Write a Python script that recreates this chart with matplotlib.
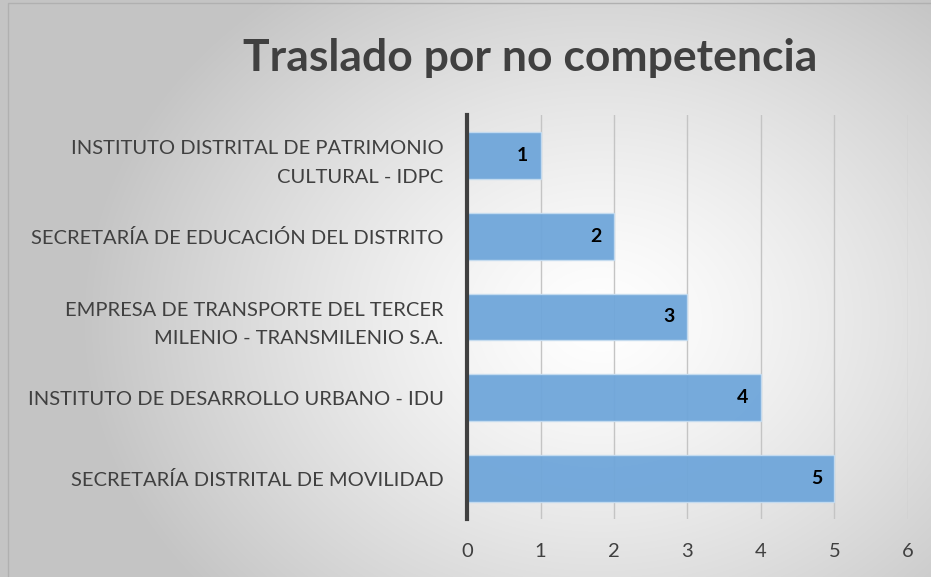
import numpy as np
import matplotlib
matplotlib.use("Agg")
import matplotlib.pyplot as plt

categorias = [
    "INSTITUTO DISTRITAL DE PATRIMONIO\nCULTURAL - IDPC",
    "SECRETARÍA DE EDUCACIÓN DEL DISTRITO",
    "EMPRESA DE TRANSPORTE DEL TERCER\nMILENIO - TRANSMILENIO S.A.",
    "INSTITUTO DE DESARROLLO URBANO - IDU",
    "SECRETARÍA DISTRITAL DE MOVILIDAD",
]
valores = [1, 2, 3, 4, 5]
ticks_x = [0, 1, 2, 3, 4, 5, 6]

plt.rcParams['font.family'] = ['Lato', 'DejaVu Sans']

fig = plt.figure(figsize=(9.31, 5.77), dpi=100)

# fondo con degradado radial
bg = fig.add_axes([0, 0, 1, 1], zorder=0)
h, w = 577, 931
yy, xx = np.mgrid[0:h, 0:w]
d = np.sqrt(((xx - 600) / 520.0) ** 2 + ((yy - 320) / 420.0) ** 2)
d = np.clip(d, 0, 1)
g = 1.0 - 0.23 * d ** 1.3
bg.imshow(np.dstack([g, g, g]), aspect='auto', extent=[0, 1, 0, 1], origin='upper')
bg.plot([0.009, 0.009, 1.0], [0.0, 0.995, 0.995], color='#b0b0b0', lw=1)
bg.set_xlim(0, 1)
bg.set_ylim(0, 1)
bg.axis('off')

ax = fig.add_axes([467 / w, 1 - 519 / h, (908 - 467) / w, (519 - 115) / h], zorder=1)
ax.patch.set_alpha(0)

y = np.arange(len(categorias))
barras = ax.barh(y, valores, height=0.58, color='#6fa6da', edgecolor='#c5dcf0',
                 linewidth=1, zorder=3, alpha=0.95)
for i, v in enumerate(valores):
    ax.annotate(str(v), (v, i), xytext=(-9, 0), textcoords='offset points',
                ha='right', va='center', fontsize=14, fontweight='bold', color='black', zorder=4)

ax.set_xlim(0, 6)
ax.set_ylim(len(categorias) - 0.5, -0.5)
ax.set_xticks(ticks_x)
ax.set_xticklabels([str(t) for t in ticks_x])
ax.set_yticks(y)
ax.set_yticklabels(categorias, fontsize=14.5, color='#404040', linespacing=1.85)
ax.tick_params(axis='x', length=0, pad=17, labelsize=14.5, labelcolor='#404040')
ax.tick_params(axis='y', length=0, pad=17)
ax.grid(axis='x', color='#c4c4c4', lw=1, zorder=1)
for s in ['top', 'right', 'bottom']:
    ax.spines[s].set_visible(False)
ax.spines['left'].set_color('#404040')
ax.spines['left'].set_linewidth(3)
ax.spines['left'].set_zorder(5)
for lab in ax.get_yticklabels():
    lab.set_ha('right')
    lab.set_multialignment('right')

fig.text(530 / w, 1 - 58 / h, "Traslado por no competencia", ha='center', va='center',
         fontsize=32, fontweight='bold', color='#404040')

fig.savefig('out.png', dpi=100)
